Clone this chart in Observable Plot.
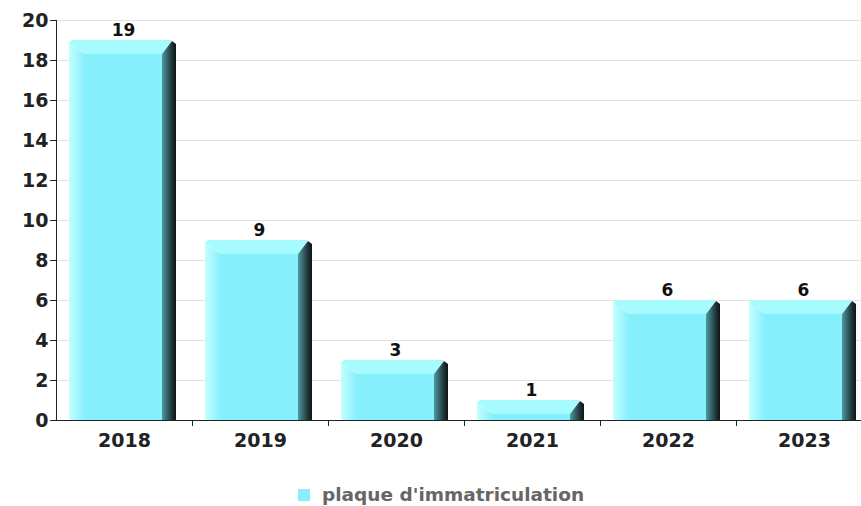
<!DOCTYPE html>
<html><head><meta charset="utf-8">
<script src="https://cdn.jsdelivr.net/npm/d3@7"></script>
<script src="https://cdn.jsdelivr.net/npm/@observablehq/plot@0.6"></script>
<style>
body{margin:0;background:#fff;font-family:"DejaVu Sans",sans-serif;}
#chart svg{display:block;}
#legend{display:flex;align-items:center;margin-top:34px;padding-left:298px;font:bold 18.5px "DejaVu Sans",sans-serif;color:#666;line-height:22px;height:22px;}
#legend span.sw{display:inline-block;width:12px;height:12px;background:#88eefb;margin-right:12px;flex:none;}
</style></head>
<body><div id="chart"></div><div id="legend"><span class="sw"></span><span id="lt"></span></div>
<script>
const years = ["2018","2019","2020","2021","2022","2023"];
const counts = [19, 9, 3, 1, 6, 6];
const yTicks = [0,2,4,6,8,10,12,14,16,18,20];
const seriesName = "plaque d'immatriculation";
const data = years.map((y,i)=>({year:y, count:counts[i]}));
document.getElementById("lt").textContent = seriesName;

function bevel(index, scales, values, dimensions, context, next){
  const g = next(index, scales, values, dimensions, context);
  const rects = Array.from(g.querySelectorAll("rect"));
  const ns = "http://www.w3.org/2000/svg";
  const out = document.createElementNS(ns,"g");
  for(const r of rects){
    const x0=+r.getAttribute("x"), y0=+r.getAttribute("y"), w=+r.getAttribute("width"), h=+r.getAttribute("height");
    const x1=x0+w, yb=y0+h, s=14, t=Math.min(14,h);
    const add=(pts,fill)=>{const p=document.createElementNS(ns,"polygon");p.setAttribute("points",pts.map(d=>d.join(",")).join(" "));p.setAttribute("fill",fill);out.appendChild(p);};
    add([[x0+16,y0+t],[x1-s,y0+t],[x1-s,yb],[x0+16,yb]],"#86effc");
    add([[x0,y0+3],[x0+16,y0+t],[x0+16,yb],[x0,yb]],"url(#gl)");
    add([[x0+3,y0],[x1-4,y0],[x1-s,y0+t],[x0+16,y0+t],[x0,y0+3]],"#a6fbff");
    add([[x1-4,y0+1],[x1,y0+4],[x1,yb],[x1-s,yb],[x1-s,y0+t]],"url(#gr)");
  }
  return out;
}

const plot = Plot.plot({
  width: 861, height: 450,
  marginLeft: 56, marginTop: 20, marginBottom: 30, marginRight: 0,
  style:{fontFamily:"DejaVu Sans, sans-serif", fontWeight:"bold", fontSize:"19px", color:"#222", background:"#fff"},
  x:{type:"band", domain: years, range:[56, 872], paddingInner:0, paddingOuter:0, label:null},
  y:{domain:[0,20], range:[420,20], label:null, ticks: yTicks},
  marks:[
    Plot.gridY(yTicks.filter(d=>d>0), {stroke:"#e2e2e2", strokeOpacity:1}),
    Plot.barY(data, {x:"year", y:"count", insetLeft:13, insetRight:16, fill:"#86effc", render: bevel}),
    Plot.ruleY([0], {stroke:"#222"}),
    Plot.ruleX([0], {x: ()=>years[0], dx:-68, y1:0, y2:20, stroke:"#222"}),
    Plot.ruleX(years, {x: d=>d, dx:68, y1:0, y2:-0.3, stroke:"#222"}),
    Plot.axisY({ticks:yTicks, tickSize:6, tickPadding:2, fontSize:19, fontWeight:"bold", stroke:"#222"}),
    Plot.axisX({tickSize:0, tickPadding:13, fontSize:19, fontWeight:"bold"}),
    Plot.text(data, {x:"year", y:"count", text:d=>String(d.count), dy:-10, dx:-1, fontSize:17, fontWeight:"bold", fill:"#111"})
  ]
});
const svg = d3.select(plot.tagName.toLowerCase()==="svg" ? plot : plot.querySelector("svg"));
const defs = svg.insert("defs", ":first-child");
const gl = defs.append("linearGradient").attr("id","gl").attr("x1","0").attr("x2","1").attr("y1","0").attr("y2","0");
gl.append("stop").attr("offset","0").attr("stop-color","#c4ffff");
gl.append("stop").attr("offset","1").attr("stop-color","#88effc");
const gr = defs.append("linearGradient").attr("id","gr").attr("x1","0").attr("x2","1").attr("y1","0").attr("y2","0");
gr.append("stop").attr("offset","0").attr("stop-color","#4f9aa2");
gr.append("stop").attr("offset","0.7").attr("stop-color","#1f3438");
gr.append("stop").attr("offset","1").attr("stop-color","#0d1416");
document.getElementById("chart").appendChild(plot);
</script></body></html>
